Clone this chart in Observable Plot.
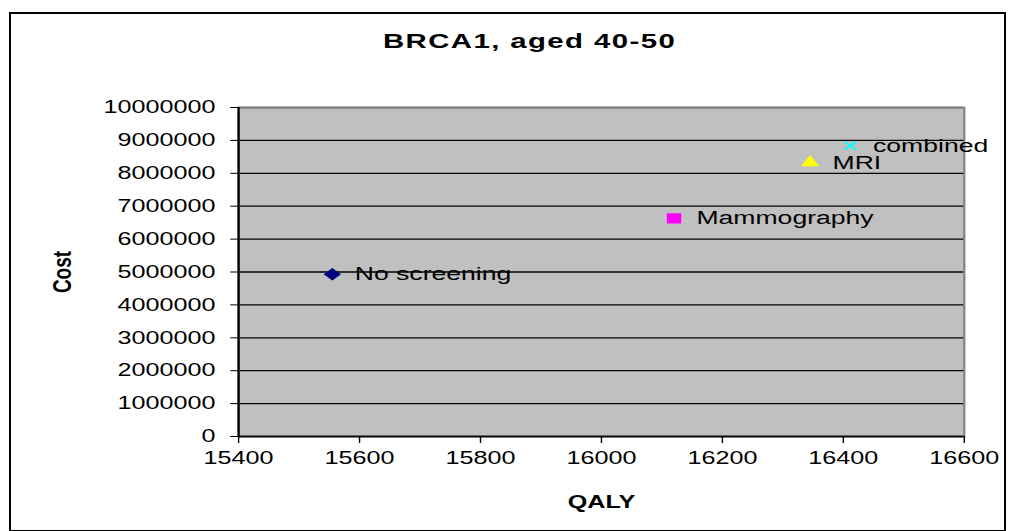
<!DOCTYPE html>
<html>
<head>
<meta charset="utf-8">
<script src="https://cdn.jsdelivr.net/npm/d3@7"></script>
<script src="https://cdn.jsdelivr.net/npm/@observablehq/plot@0.6"></script>
<style>
  html, body { margin: 0; padding: 0; background: #fff; }
  #wrap { position: relative; width: 1016px; height: 531px; overflow: hidden; }
  #box { position: absolute; left: 9px; top: 12px; width: 997px; height: 520px; border: 2px solid #000; box-sizing: border-box; pointer-events: none; }
  svg { display: block; }
</style>
</head>
<body>
<div id="wrap"><div id="box"></div></div>
<script>
// ---- data ----
const strategies = ["No screening", "Mammography", "MRI", "combined"];
const qaly = [15555, 16120, 16345, 16412];
const cost = [4930000, 6630000, 8330000, 8840000];
const symbols = ["diamond2", "square", "triangle", "times"];
const colors = ["#000080", "#FF00FF", "#FFFF00", "#00FFFF"];
const xTicks = [15400, 15600, 15800, 16000, 16200, 16400, 16600];
const yTicks = [0, 1000000, 2000000, 3000000, 4000000, 5000000, 6000000, 7000000, 8000000, 9000000, 10000000];
const titleText = "BRCA1, aged 40-50";
const xLabel = "QALY";
const yLabel = "Cost";

const rows = strategies.map((s, i) => ({name: s, qaly: qaly[i], cost: cost[i], symbol: symbols[i], color: colors[i]}));

const K = 1.4;               // horizontal stretch of the original picture
const W = Math.round(1016 / K);
const font = "'Liberation Sans', Arial, sans-serif";

const sizes = {diamond2: 5.6, square: 5.8, triangle: 4.8, times: 3.8};
const pointMarks = rows.map(d => d.symbol === "times"
  ? Plot.dot([d], {x: "qaly", y: "cost", symbol: d.symbol, stroke: d.color, strokeWidth: 1.6, r: sizes[d.symbol]})
  : Plot.dot([d], {x: "qaly", y: "cost", symbol: d.symbol, fill: d.color, r: sizes[d.symbol]}));

const chart = Plot.plot({
  width: W,
  height: 531,
  marginLeft: 170,
  marginRight: W - 964 / K,
  marginTop: 107,
  marginBottom: 95,
  style: {fontFamily: font, fontSize: "18px", color: "#000", background: "transparent"},
  x: {domain: [15400, 16600]},
  y: {domain: [0, 10000000]},
  marks: [
    Plot.frame({fill: "#C0C0C0"}),
    Plot.ruleY(yTicks, {stroke: "#000", strokeWidth: 1.3}),
    Plot.frame({stroke: "#808080", strokeWidth: 1.5}),
    Plot.ruleX([15400], {stroke: "#000", strokeWidth: 1.6}),
    Plot.ruleY([0], {stroke: "#000", strokeWidth: 1.3}),
    Plot.axisY({ticks: yTicks, tickSize: 5.5, tickPadding: 11, tickFormat: d3.format("d"), label: null, fontSize: 18, stroke: "#000"}),
    Plot.axisX({ticks: xTicks, tickSize: 7, tickPadding: 8, tickFormat: d3.format("d"), label: null, fontSize: 18, stroke: "#000"}),
    ...pointMarks,
    Plot.text(rows, {x: "qaly", y: "cost", text: "name", textAnchor: "start", dx: 16, fontSize: 19, fill: "#000"}),
    Plot.text([titleText], {frameAnchor: "top", lineAnchor: "bottom", dy: -60, dx: 377.9 - (170 + 964 / K) / 2, fontSize: 21, fontWeight: "bold", fill: "#000"}),
    Plot.text([xLabel], {frameAnchor: "bottom", lineAnchor: "bottom", dy: 71, fontSize: 18, fontWeight: "bold", fill: "#000"}),
    Plot.text([yLabel], {frameAnchor: "left", textAnchor: "middle", dx: -126, rotate: -90, fontSize: 19, fontWeight: "bold", fill: "#000"})
  ]
});

// stretch horizontally like the original picture
chart.setAttribute("width", 1016);
chart.setAttribute("height", 531);
chart.setAttribute("preserveAspectRatio", "none");
chart.style.width = "1016px";
chart.style.height = "531px";
chart.style.maxWidth = "none";
chart.querySelectorAll("text").forEach(t => {
  if (t.textContent === titleText) t.style.letterSpacing = "1px";
});
document.getElementById("wrap").prepend(chart);
</script>
</body>
</html>
